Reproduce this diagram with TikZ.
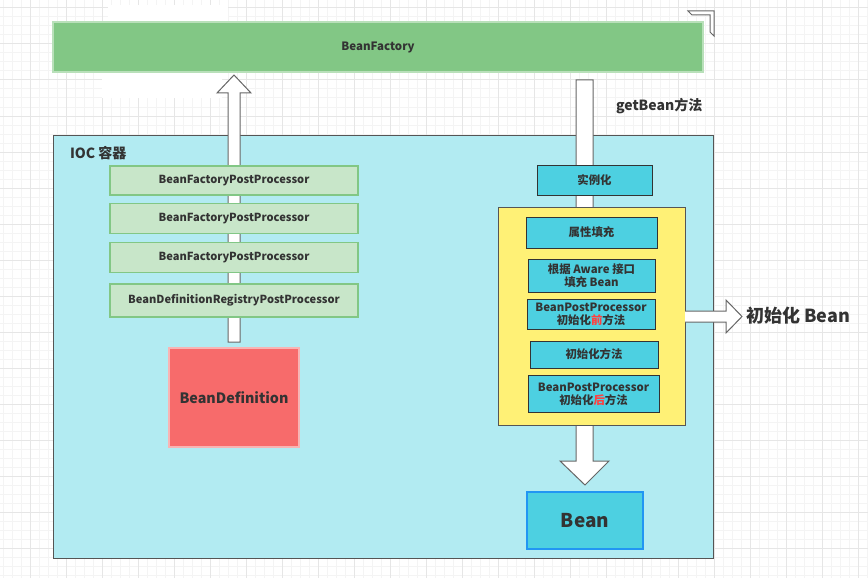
\documentclass[tikz,border=0pt]{standalone}
\usepackage{fontspec}
\setmainfont{Noto Sans CJK SC}
\definecolor{txt}{HTML}{333333}
\definecolor{bfgreen}{HTML}{82C785}
\definecolor{bfborder}{HTML}{B9E0BA}
\definecolor{iocfill}{HTML}{B2EBF2}
\definecolor{iocborder}{HTML}{555555}
\definecolor{ppfill}{HTML}{C8E6C9}
\definecolor{ppborder}{HTML}{82C785}
\definecolor{bdfill}{HTML}{F76B6B}
\definecolor{bdborder}{HTML}{F8B4B4}
\definecolor{cyanfill}{HTML}{4DD0E1}
\definecolor{yelfill}{HTML}{FFF176}
\definecolor{beanborder}{HTML}{2196F3}
\definecolor{redtxt}{HTML}{FF4040}
\definecolor{minorgrid}{HTML}{F4F4F4}
\definecolor{majorgrid}{HTML}{E6E6E6}
\begin{document}
\begin{tikzpicture}[x=1pt,y=-1pt,
  every node/.style={inner sep=0pt, outer sep=0pt, text=txt, font=\bfseries},
  boxbase/.style={draw, rectangle, line width=1pt, align=center},
  factorybox/.style={boxbase, fill=bfgreen, draw=bfborder, line width=1.5pt},
  containerbox/.style={boxbase, fill=iocfill, draw=iocborder},
  ppbox/.style={boxbase, fill=ppfill, draw=ppborder, line width=1.5pt, font=\bfseries\fontsize{11.1}{13}\selectfont},
  defbox/.style={boxbase, fill=bdfill, draw=bdborder, line width=1.5pt, font=\bfseries\fontsize{14.3}{17}\selectfont},
  stepbox/.style={boxbase, fill=cyanfill, draw=txt, font=\bfseries\fontsize{11.4}{12.8}\selectfont},
  yellowbox/.style={boxbase, fill=yelfill, draw=iocborder},
  beanbox/.style={boxbase, fill=cyanfill, draw=beanborder, line width=1.5pt, font=\bfseries\fontsize{19}{22}\selectfont},
  blockarrow/.style={draw=black!60, fill=white, line width=1pt, line join=miter},
  gridminor/.style={draw=minorgrid, line width=1pt},
  gridmajor/.style={draw=majorgrid, line width=1pt},
  lbl/.style={anchor=west}
]
\useasboundingbox (0,0) rectangle (868,578);
\fill[white] (0,0) rectangle (868,578);
% grid
\foreach \x in {3,12,...,867} \draw[gridminor] (\x,0) -- (\x,578);
\foreach \y in {8,17,...,577} \draw[gridminor] (0,\y) -- (868,\y);
\foreach \x in {30,66,...,866} \draw[gridmajor] (\x,0) -- (\x,578);
\foreach \y in {8,44,...,577} \draw[gridmajor] (0,\y) -- (868,\y);
% white patches
\fill[white] (108,5) rectangle (228,22);
\fill[white] (102,72) rectangle (222,98);
% corner marker
\draw[draw=black!60, fill=white, line width=1pt] (688,11) -- (714,11) -- (714,36) -- (710,32) -- (710,15) -- (692,15) -- cycle;

% BeanFactory
\node[factorybox, minimum width=650, minimum height=50, font=\bfseries\fontsize{11.5}{13}\selectfont] (bf) at (378,47) {BeanFactory};

% IOC container
\node[containerbox, minimum width=660, minimum height=423] (ioc) at (383,346.5) {};
\node[lbl, font=\bfseries\fontsize{14}{16}\selectfont] (ioclbl) at (70,153) {IOC 容器};

% getBean label
\node[lbl, font=\bfseries\fontsize{14}{16}\selectfont] (getbean) at (616,106) {getBean方法};

% BeanDefinition
\node[defbox, minimum width=130, minimum height=99] (bd) at (234,397.5) {BeanDefinition};

% up arrow (BeanDefinition -> BeanFactory)
\draw[blockarrow] (234,75) -- (251,93) -- (240,93) -- (240,342) -- (228,342) -- (228,93) -- (217,93) -- cycle;

% post processors
\node[ppbox, minimum width=248, minimum height=29] (bfpp1) at (234,180.5) {BeanFactoryPostProcessor};
\node[ppbox, minimum width=248, minimum height=30] (bfpp2) at (234,218.5) {BeanFactoryPostProcessor};
\node[ppbox, minimum width=248, minimum height=30] (bfpp3) at (234,257.5) {BeanFactoryPostProcessor};
\node[ppbox, minimum width=248, minimum height=33] (bdrpp) at (234,300.5) {BeanDefinitionRegistryPostProcessor};

% down arrow (BeanFactory -> Bean)
\draw[blockarrow] (576,80) -- (593,80) -- (593,461) -- (609,461) -- (585,485) -- (560,461) -- (576,461) -- cycle;

% yellow init group
\node[yellowbox, minimum width=187, minimum height=218] (initgrp) at (591.5,316) {};
% right arrow
\draw[blockarrow] (685,311) -- (726,311) -- (726,300) -- (742,316.5) -- (726,333) -- (726,322) -- (685,322);
\node[lbl, font=\bfseries\fontsize{18}{21}\selectfont] (initbean) at (746,316) {初始化 Bean};

% steps
\node[stepbox, minimum width=115, minimum height=30] (inst) at (594.5,180) {实例化};
\node[stepbox, minimum width=131, minimum height=31] (fillp) at (591.5,232.5) {属性填充};
\node[stepbox, minimum width=127, minimum height=33] (aware) at (591.5,275.5) {根据 Aware 接口\\填充 Bean};
\node[stepbox, minimum width=128, minimum height=30] (bppb) at (591,314) {BeanPostProcessor\\初始化{\color{redtxt}前}方法};
\node[stepbox, minimum width=128, minimum height=27] (initm) at (594,354.5) {初始化方法};
\node[stepbox, minimum width=131, minimum height=37] (bppa) at (593.5,394) {BeanPostProcessor\\初始化{\color{redtxt}后}方法};

% Bean
\node[beanbox, minimum width=116, minimum height=57] (bean) at (585,520.5) {Bean};
\end{tikzpicture}
\end{document}
